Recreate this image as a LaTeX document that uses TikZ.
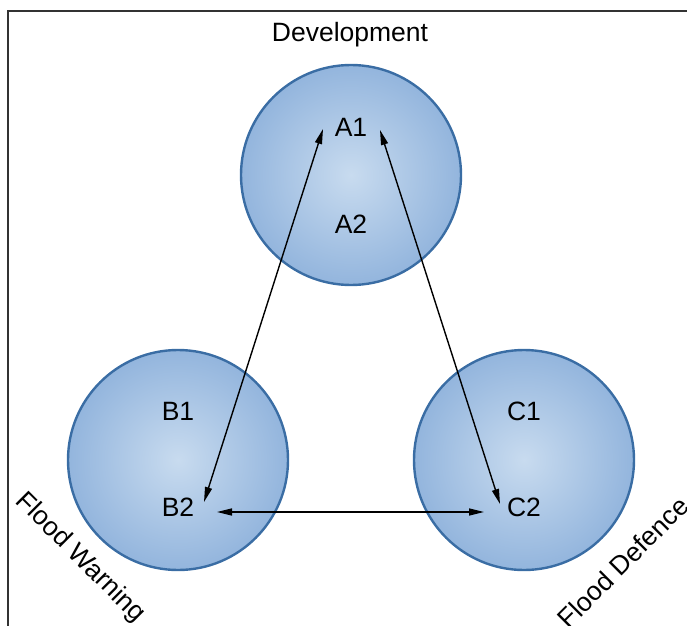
\documentclass[tikz,border=0pt]{standalone}
\usepackage{fontspec}
\setmainfont{Liberation Sans}
\usetikzlibrary{arrows.meta}
\definecolor{bubbleIn}{HTML}{C8DBEF}
\definecolor{bubbleOut}{HTML}{93B5DD}
\definecolor{bubbleRim}{HTML}{3A6DA4}
\definecolor{frameGray}{HTML}{333333}
\tikzset{
  bubble/.style={circle, minimum size=220bp, inner sep=0pt, line width=2.4bp,
    draw=bubbleRim, shade, inner color=bubbleIn, outer color=bubbleOut},
  tag/.style={anchor=base, inner sep=0pt, font=\fontsize{26.5bp}{30bp}\selectfont},
  side/.style={inner sep=0pt, font=\fontsize{26.5bp}{30bp}\selectfont},
  link/.style={line width=1.4bp, {Triangle[length=15bp,width=7bp]}-{Triangle[length=15bp,width=7bp]}}
}
\begin{document}
\begin{tikzpicture}[x=1bp, y=-1bp]
\useasboundingbox (0,0) rectangle (687,626);
% frame edges
\draw[frameGray, line width=2bp] (8,627) -- (8,11) -- (688,11);
% the three circles
\node[bubble] (dev) at (351,175) {};
\node[bubble] (warn) at (178,460) {};
\node[bubble] (def) at (524,460) {};
% titles
\node[tag] (devtitle) at (350,42) {Development};
\node[side, rotate=-45] (warntitle) at (80,558) {Flood Warning};
\node[side, rotate=45] (deftitle) at (623,562) {Flood Defence};
% item labels
\node[tag] (a1) at (351,137) {A1};
\node[tag] (a2) at (351,233) {A2};
\node[tag] (b1) at (178,420) {B1};
\node[tag] (b2) at (178,516) {B2};
\node[tag] (c1) at (524,420) {C1};
\node[tag] (c2) at (524,516) {C2};
% connector end points beside the labels
\coordinate (a1l) at (323,129);
\coordinate (a1r) at (380,130);
\coordinate (b2t) at (204,502);
\coordinate (b2r) at (217,512);
\coordinate (c2t) at (500,504);
\coordinate (c2l) at (484,512);
% connectors
\draw[link] (a1l) -- (b2t);
\draw[link] (a1r) -- (c2t);
\draw[link] (b2r) -- (c2l);
\end{tikzpicture}
\end{document}
